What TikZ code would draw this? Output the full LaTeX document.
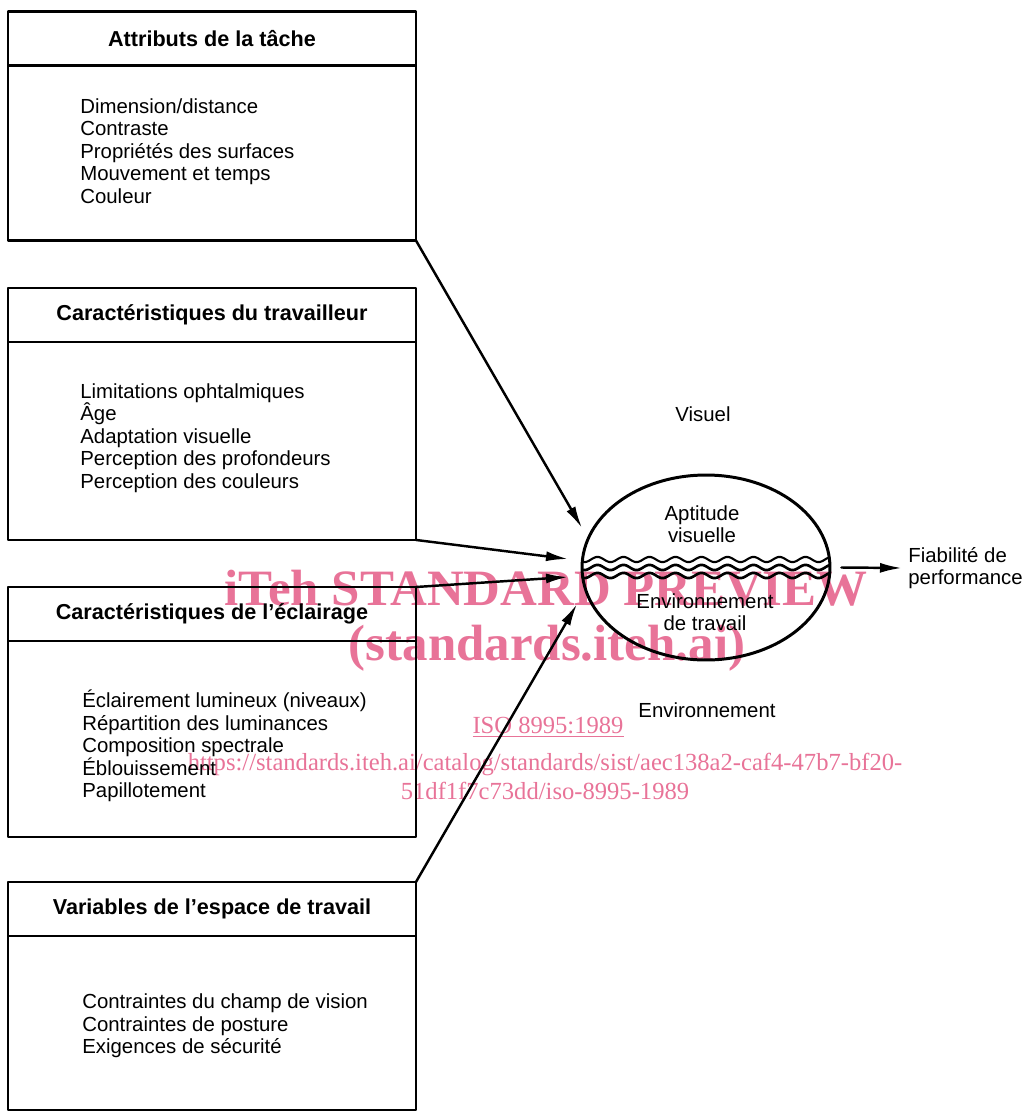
\documentclass[tikz,border=0pt]{standalone}
\usepackage{fontspec}
\setmainfont{Liberation Sans}
\newfontfamily\wmfont{Liberation Serif}
\usetikzlibrary{positioning,shapes.geometric,arrows.meta}
\definecolor{wmpink}{RGB}{232,115,152}
\begin{document}
\begin{tikzpicture}[x=0.02cm, y=-0.02cm, line join=round, line cap=round,
	titlebox/.style={draw, line width=1.5pt, minimum width=8.16cm, minimum height=1.08cm, inner sep=0pt, outer sep=0pt, font=\bfseries\fontsize{12.3}{14}\selectfont},
	bodybox/.style={draw, line width=1.5pt, minimum width=8.16cm, inner sep=0pt, outer sep=0pt},
	items/.style={anchor=west, align=left, inner sep=0pt, font=\fontsize{11.6}{12.8}\selectfont},
	plain/.style={align=center, inner sep=0pt, font=\fontsize{11.6}{12.8}\selectfont},
	feed/.style={-{Latex[length=4.4mm,width=2mm]}, line width=1.4pt},
	watermark/.style={text=wmpink, inner sep=0pt, align=center}]
	\useasboundingbox (0,0) rectangle (1028,1112);
	\def\ey{567.5}
	% the four groups of factors
	\node[titlebox] (b1) at (212,38.5) {Attributs de la tâche};
	\node[bodybox, minimum height=3.5cm, below=0pt of b1] (b1body) {};
	\node[items] at (80,151) {Dimension/distance\\Contraste\\Propriétés des surfaces\\Mouvement et temps\\Couleur};
	\node[titlebox] (b2) at (212,315) {Caractéristiques du travailleur};
	\node[bodybox, minimum height=3.96cm, below=0pt of b2] (b2body) {};
	\node[items] at (80,438) {Limitations ophtalmiques\\Âge\\Adaptation visuelle\\Perception des profondeurs\\Perception des couleurs};
	\node[titlebox] (b3) at (212,614) {Caractéristiques de l’éclairage};
	\node[bodybox, minimum height=3.92cm, below=0pt of b3] (b3body) {};
	\node[items] at (82,746) {Éclairement lumineux (niveaux)\\Répartition des luminances\\Composition spectrale\\Éblouissement\\Papillotement};
	\node[titlebox] (b4) at (212,909) {Variables de l’espace de travail};
	\node[bodybox, minimum height=3.48cm, below=0pt of b4] (b4body) {};
	\node[items] at (82,1026) {Contraintes du champ de vision\\Contraintes de posture\\Exigences de sécurité};
	% the ellipse and its wavy border
	\node[ellipse, draw, line width=1.7pt, minimum width=4.96cm, minimum height=3.7cm, inner sep=0pt] (vis) at (706,\ey) {};
	\begin{scope}
		\clip (vis.center) ellipse [x radius=2.47cm, y radius=1.84cm];
		\foreach \dy/\lw in {-8/1.2pt,0/1.5pt,8/1.5pt}{
			\draw[line width=\lw] plot[domain=578:836, samples=140, smooth] (\x,{\ey+\dy+2.6*sin((\x-578)/26*360)});
		}
	\end{scope}
	\node[plain] (apt) at (702,524) {Aptitude\\visuelle};
	\node[plain] (env) at (705,612) {Environnement\\de travail};
	\node[plain] (visuel) at (703,414) {Visuel};
	\node[plain] (envlab) at (707,710) {Environnement};
	\node[plain, anchor=west, align=left] (fiab) at (908,568) {Fiabilité de\\performance};
	% arrows
	\coordinate (tip1) at (582,528);
	\coordinate (tip2) at (568,559);
	\coordinate (tip3) at (568,577);
	\coordinate (tip4) at (577,604);
	\coordinate (out) at (902,568);
	\draw[feed] (b1body.south east) -- (tip1);
	\draw[feed] (b2body.south east) -- (tip2);
	\draw[feed] (b3.north east) -- (tip3);
	\draw[feed] (b4.north east) -- (tip4);
	\draw[feed] ([xshift=0.2cm]vis.east) -- (out);
	% watermark
	\begin{scope}[blend mode=multiply]
		\node[watermark, font=\wmfont\bfseries\fontsize{29}{30}\selectfont] (wm1) at (546,588) {iTeh STANDARD PREVIEW};
		\node[watermark, font=\wmfont\bfseries\fontsize{29}{30}\selectfont] (wm2) at (547,648) {(standards.iteh.ai)};
		\node[watermark, font=\wmfont\fontsize{14}{16}\selectfont] (wm3) at (548,727) {\underline{ISO 8995:1989}};
		\node[watermark, font=\wmfont\fontsize{14}{16.5}\selectfont] (wm4) at (545,776) {https://standards.iteh.ai/catalog/standards/sist/aec138a2-caf4-47b7-bf20-\\51df1f7c73dd/iso-8995-1989};
	\end{scope}
\end{tikzpicture}
\end{document}
